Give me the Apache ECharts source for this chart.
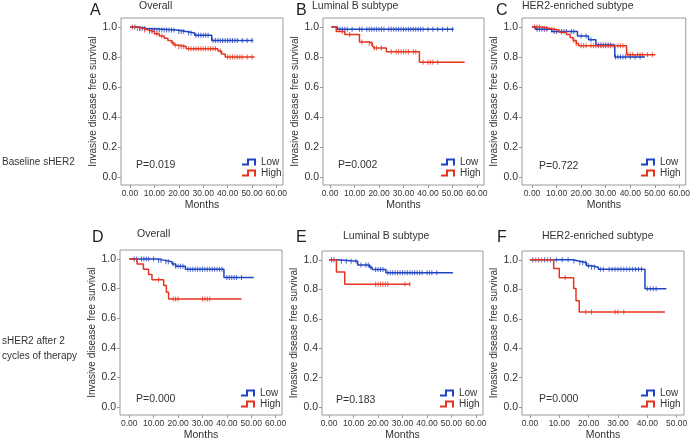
<!DOCTYPE html>
<html><head><meta charset="utf-8">
<script src="https://cdn.jsdelivr.net/npm/echarts@6/dist/echarts.min.js"></script>
<style>html,body{margin:0;padding:0;background:#fff}#c{width:693px;height:442px}</style>
</head><body><div id="c"></div>
<script>
// ---------- DATA ----------
const panelLetters = ['A','B','C','D','E','F'];
const panelTitles = ['Overall','Luminal B subtype','HER2-enriched subtype','Overall','Luminal B subtype','HER2-enriched subtype'];
const pValues = ['P=0.019','P=0.002','P=0.722','P=0.000','P=0.183','P=0.000'];
const rowLabels = ['Baseline sHER2','sHER2 after 2\ncycles of therapy'];
const groupNames = ['Low','High'];
const yTicks = [0,0.2,0.4,0.6,0.8,1.0];
const xTicks60 = [0,10,20,30,40,50,60];
const xTicks50 = [0,10,20,30,40,50];
const xAxisName = 'Months';
const yAxisName = 'Invasive disease free survival';

// Kaplan-Meier steps: [months, survival after event]
const A_low  = [[0,1],[3,0.99],[7,0.98],[19,0.97],[23,0.96],[26.5,0.945],[33.5,0.91],[50.5,0.91]];
const A_high = [[0,1],[2.7,0.99],[5.5,0.98],[7.5,0.97],[10,0.955],[12,0.94],[14,0.925],[15.5,0.91],[17,0.895],[18,0.88],[19,0.87],[23,0.855],[36,0.84],[37.5,0.82],[39,0.80],[51,0.80]];
const B_low  = [[0.5,1],[3,0.985],[50.5,0.985]];
const B_high = [[0.5,1],[2.5,0.97],[6,0.95],[12,0.9],[16,0.89],[17.3,0.875],[18,0.86],[23,0.835],[36.5,0.765],[55,0.765]];
const C_low  = [[0,1],[1.5,0.985],[8,0.97],[18.5,0.94],[23,0.915],[26,0.88],[33.7,0.80],[46,0.80]];
const C_high = [[0,1],[4,0.99],[7.5,0.98],[11,0.965],[14,0.95],[15.5,0.93],[16.7,0.91],[18,0.89],[19,0.875],[38.5,0.815],[50.2,0.815]];
const D_low  = [[0,1],[11.5,0.99],[14.5,0.98],[17.5,0.965],[19,0.95],[23,0.93],[38.8,0.875],[51,0.875]];
const D_high = [[0,1],[3.2,0.965],[5.8,0.93],[7.9,0.895],[9.3,0.86],[14.1,0.82],[15.2,0.775],[16.1,0.73],[46,0.73]];
const E_low  = [[0,1],[3,0.99],[11.7,0.965],[16.5,0.95],[17.6,0.935],[23.2,0.912],[50.6,0.912]];
const E_high = [[0,1],[3,0.917],[6.4,0.835],[33.1,0.835]];
const F_low  = [[0,1],[14.5,0.99],[17,0.98],[19.3,0.96],[21,0.95],[23.3,0.936],[39.2,0.804],[46.5,0.804]];
const F_high = [[0,1],[8.1,0.942],[10,0.878],[14.9,0.805],[15.7,0.722],[16.8,0.646],[46,0.646]];

// censoring times (months)
const A_lowCens  = [2,4,5,6,8,9,10,11,12,13,14,15,16,17,18,20,21,22,24,25,27,28,29,30,31,32,34,35,36,37,38,39,40,41,42,43,44,46,48,50];
const A_highCens = [1,3,4,6,8,9,11,13,17.5,18.5,20,21,22,24,25,26,27,28,29,30,31,32,33,34,35,37,40,41,42,43,44,45,46,48,50];
const B_lowCens  = [4,5,6,7,9,12,13,15,16,17,18,19,20,21,22,24,25,26,27,28,29,30,31,32,33,34,35,36,37,38,40,42,44,46,48,50];
const B_highCens = [5,8,13,16,17,18,19,21,25,27,28,29,30,31,32,34,35,38,40,41,42,44];
const C_lowCens  = [2,3,4,5,6,9,10,12,13,14,16,17,20,22,24,27,28,29,30,31,32,34,35,36,37,38,40,42,44];
const C_highCens = [1,2,3,5,6,8,9,12,17,18,20,21,22,24,25,26,27,28,29,30,31,32,33,35,36,37,39,40,41,43,44,45,47,49];
const D_lowCens  = [2,3,5,6,7,8,10,12,13,15,16,18,19,20,21,22,24,25,26,27,28,29,30,31,32,33,34,35,36,37,38,40,41,42,43,44,46];
const D_highCens = [12,18,19,20,30,31,32,33];
const E_lowCens  = [1,2,5,7,9,11,13,15,16,17,19,20,21,22,24,25,26,27,28,29,30,31,32,33,34,35,36,37,38,40,41,42,44];
const E_highCens = [19,20,21,22,23,24,31,33];
const F_lowCens  = [1,3,5,7,9,11,13,15,17,18,19,20,21,22,24,25,27,28,29,30,31,32,33,34,35,36,37,38,40,41,42,43];
const F_highCens = [2,4,6,12,19,21,29,30,32];

const lowCurves  = [A_low, B_low, C_low, D_low, E_low, F_low];
const highCurves = [A_high, B_high, C_high, D_high, E_high, F_high];
const lowCens  = [A_lowCens, B_lowCens, C_lowCens, D_lowCens, E_lowCens, F_lowCens];
const highCens = [A_highCens, B_highCens, C_highCens, D_highCens, E_highCens, F_highCens];
const xTickSets = [xTicks60, xTicks60, xTicks60, xTicks60, xTicks60, xTicks50];

// ---------- LAYOUT / STYLE ----------
const FONT = 'Liberation Sans, Arial, Helvetica, sans-serif';
const BLUE = '#1f44c2';
const RED = '#e8341f';
const TXT = '#333';
const BOX = '#9a9a9a';
const layout = [
  {left:121, top:18,  width:162, height:167, xmin:-3.7, xmax:62.7, letter:[90,11],  title:[139,7],  p:[136,166], legend:[242,157]},
  {left:323, top:18,  width:161, height:167, xmin:-2.9, xmax:62.9, letter:[296,11], title:[312,7],  p:[338,166], legend:[441,157]},
  {left:522, top:18,  width:164, height:167, xmin:-4.1, xmax:62.6, letter:[496,11], title:[522,7],  p:[539,167], legend:[641,157]},
  {left:120, top:250, width:162, height:167, xmin:-3.8, xmax:62.6, letter:[92,238], title:[137,235],p:[136,400], legend:[241,388]},
  {left:322, top:251, width:161, height:167, xmin:-2.9, xmax:62.9, letter:[296,238],title:[343,237],p:[336,401], legend:[440,388]},
  {left:522, top:251, width:162, height:167, xmin:-2.7, xmax:52.5, letter:[497,238],title:[542,237],p:[539,400], legend:[641,388]}
];
const LEG_ICON = 'path://M0,5 L5,5 L5,0 L14,0 L14,7 L12,7 L12,2 L7,2 L7,7 L0,7 Z';

function survAt(curve, t) {
  let v = curve[0][1];
  for (const p of curve) { if (p[0] <= t) v = p[1]; else break; }
  return v;
}

const grid = [], xAxis = [], yAxis = [], series = [], legend = [], graphic = [];
layout.forEach((L, i) => {
  grid.push({left:L.left, top:L.top, width:L.width, height:L.height, show:true,
    borderColor:BOX, borderWidth:1, backgroundColor:'transparent', containLabel:false});
  xAxis.push({type:'value', gridIndex:i, min:L.xmin, max:L.xmax, position:'bottom',
    name:xAxisName, nameLocation:'middle', nameGap:15,
    nameTextStyle:{fontSize:10.5, color:TXT, fontFamily:FONT},
    axisLine:{show:false, onZero:false}, splitLine:{show:false},
    axisTick:{show:true, customValues:xTickSets[i], length:3, lineStyle:{color:BOX}},
    axisLabel:{customValues:xTickSets[i], formatter:v => v.toFixed(2), fontSize:8.5, color:TXT, margin:4, fontFamily:FONT}
  });
  yAxis.push({type:'value', gridIndex:i, min:-0.053, max:1.06, position:'left',
    name:yAxisName, nameLocation:'middle', nameGap:23,
    nameTextStyle:{fontSize:10, color:TXT, fontFamily:FONT},
    axisLine:{show:false, onZero:false}, splitLine:{show:false},
    axisTick:{show:true, customValues:yTicks, length:3, lineStyle:{color:BOX}},
    axisLabel:{customValues:yTicks, formatter:v => v.toFixed(1), fontSize:10.5, color:TXT, margin:4, fontFamily:FONT}
  });
  const curves = [lowCurves[i], highCurves[i]];
  const cens = [lowCens[i], highCens[i]];
  const cols = [BLUE, RED];
  curves.forEach((c, k) => {
    series.push({type:'line', name:groupNames[k], xAxisIndex:i, yAxisIndex:i, data:c, step:'end',
      showSymbol:false, symbol:'none', color:cols[k], lineStyle:{width:1.5, color:cols[k]}, silent:true, animation:false});
  });
  cens.forEach((cs, k) => {
    series.push({type:'scatter', name:groupNames[k] + ' censored', xAxisIndex:i, yAxisIndex:i,
      data:cs.map(t => [t, survAt(curves[k], t)]), symbol:'rect', symbolSize:[1,5],
      itemStyle:{color:cols[k]}, silent:true, animation:false});
  });
  legend.push({data:groupNames, orient:'vertical', left:L.legend[0], top:L.legend[1],
    itemWidth:14, itemHeight:7, itemGap:1, icon:LEG_ICON, selectedMode:false, padding:0,
    textStyle:{fontSize:10, color:TXT, fontFamily:FONT, lineHeight:9}});
  graphic.push({type:'text', left:L.letter[0], top:L.letter[1]-8,
    style:{text:panelLetters[i], fontSize:16, fill:'#222', fontFamily:FONT}});
  graphic.push({type:'text', left:L.title[0], top:L.title[1]-6,
    style:{text:panelTitles[i], fontSize:10.5, fill:TXT, fontFamily:FONT}});
  graphic.push({type:'text', left:L.p[0], top:L.p[1]-6,
    style:{text:pValues[i], fontSize:10.5, fill:TXT, fontFamily:FONT}});
});
graphic.push({type:'text', left:2, top:157, style:{text:rowLabels[0], fontSize:10, fill:TXT, fontFamily:FONT}});
graphic.push({type:'text', left:2, top:334, style:{text:rowLabels[1], fontSize:10, lineHeight:15, fill:TXT, fontFamily:FONT}});

const chart = echarts.init(document.getElementById('c'), null, {renderer:'canvas'});
chart.setOption({animation:false, textStyle:{fontFamily:FONT}, grid, xAxis, yAxis, series, legend, graphic});
</script></body></html>
